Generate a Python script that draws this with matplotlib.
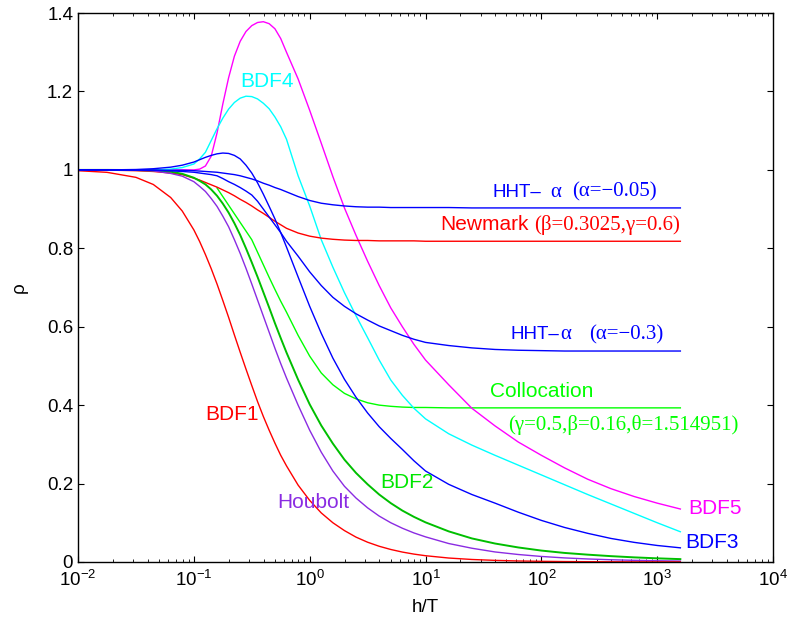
import numpy as np
import matplotlib
matplotlib.use("Agg")
import matplotlib.pyplot as plt

plt.rcParams['font.family'] = ['Liberation Sans', 'DejaVu Sans']
plt.rcParams['mathtext.default'] = 'regular'

nan = np.nan

# log10(h/T) sample positions shared by all curves
log_hT = [-2, -1.75, -1.5, -1.35, -1.2, -1.1,
          -1.0, -0.95, -0.9, -0.85, -0.8, -0.75, -0.7, -0.65, -0.6, -0.55, -0.5,
          -0.45, -0.4, -0.35, -0.3, -0.25, -0.2,
          -0.1, 0, 0.1, 0.2, 0.3, 0.4, 0.5, 0.6, 0.7, 0.8, 0.9, 1.0,
          1.2, 1.4, 1.6, 1.8, 2.0, 2.2, 2.4, 2.6, 2.8, 3.0, 3.2]

bdf1 = [0.998, 0.9938, 0.981, 0.9628, 0.9296, 0.895,
        0.847, 0.8173, 0.784, 0.748, 0.709, 0.667, 0.624, 0.579, 0.535, 0.492, 0.450,
        0.409, 0.371, 0.336, 0.303, 0.272, 0.245,
        0.196, 0.157, 0.125, 0.100, 0.080, 0.0633, 0.0503, 0.040, 0.0318, 0.0252, 0.020, 0.0159,
        0.0100, 0.0063, 0.0040, 0.0025, 0.0016, 0.0010, 0.0006, 0.0004, 0.00025, 0.00016, 0.0001]
houbolt = [1.0, 1.0, 0.9993, 0.9975, 0.991, 0.984,
           0.970, 0.958, 0.945, 0.927, 0.907, 0.882, 0.855, 0.822, 0.787, 0.749, 0.709,
           0.668, 0.627, 0.586, 0.545, 0.506, 0.469,
           0.40, 0.336, 0.28, 0.232, 0.193, 0.163, 0.138, 0.117, 0.100, 0.086, 0.074, 0.064,
           0.047, 0.035, 0.0255, 0.019, 0.014, 0.0103, 0.0076, 0.0056, 0.0041, 0.003, 0.0022]
bdf2 = [1.0, 1.0, 0.9996, 0.9985, 0.9955, 0.990,
        0.980, 0.972, 0.963, 0.950, 0.934, 0.914, 0.891, 0.864, 0.834, 0.800, 0.764,
        0.727, 0.688, 0.649, 0.609, 0.571, 0.534,
        0.465, 0.402, 0.348, 0.302, 0.261, 0.227, 0.198, 0.172, 0.150, 0.131, 0.115, 0.101,
        0.078, 0.060, 0.047, 0.037, 0.029, 0.023, 0.0186, 0.0148, 0.0117, 0.0092, 0.0072]
bdf3 = [1.0, 1.0, 1.001, 1.003, 1.007, 1.012,
        1.020, 1.026, 1.032, 1.037, 1.041, 1.043, 1.042, 1.037, 1.028, 1.012, 0.992,
        0.967, 0.938, 0.907, 0.875, 0.840, 0.803,
        0.727, 0.652, 0.583, 0.520, 0.466, 0.420, 0.380, 0.345, 0.315, 0.287, 0.258, 0.232,
        0.198, 0.172, 0.150, 0.127, 0.106, 0.088, 0.073, 0.060, 0.050, 0.042, 0.036]
bdf4 = [1.0, 1.0, 1.0, 1.0, 1.002, 1.006,
        1.015, 1.028, 1.045, 1.075, 1.105, 1.132, 1.155, 1.172, 1.183, 1.188, 1.187,
        1.181, 1.170, 1.156, 1.135, 1.110, 1.078,
        0.985, 0.908, 0.822, 0.752, 0.687, 0.628, 0.572, 0.515, 0.464, 0.425, 0.392, 0.365,
        0.327, 0.298, 0.272, 0.247, 0.222, 0.197, 0.172, 0.148, 0.124, 0.100, 0.077]
bdf5 = [1.0, 1.0, 1.0, 1.0, 1.0, 1.0,
        1.0, 1.002, 1.01, 1.035, 1.094, 1.168, 1.235, 1.290, 1.328, 1.353, 1.368,
        1.376, 1.378, 1.373, 1.360, 1.335, 1.300,
        1.232, 1.152, 1.068, 0.983, 0.903, 0.833, 0.767, 0.705, 0.648, 0.600, 0.555, 0.515,
        0.452, 0.392, 0.347, 0.306, 0.272, 0.240, 0.211, 0.187, 0.167, 0.150, 0.135]
hht_005 = [1.0, 1.0, 1.0, 0.9995, 0.999, 0.999,
           0.998, 0.997, 0.996, 0.995, 0.994, 0.992, 0.990, 0.988, 0.985, 0.981, 0.977,
           0.972, 0.966, 0.961, 0.955, 0.950, 0.944,
           0.932, 0.922, 0.915, 0.911, 0.908, 0.906, 0.905, 0.905, 0.904, 0.904, 0.904, 0.904,
           0.904, 0.903, 0.903, 0.903, 0.903, 0.903, 0.903, 0.903, 0.903, 0.903, 0.903]
hht_03 = [1.0, 1.0, 0.9995, 0.999, 0.9975, 0.996,
          0.994, 0.992, 0.990, 0.988, 0.985, 0.978, 0.970, 0.963, 0.955, 0.946, 0.936,
          0.920, 0.900, 0.880, 0.860, 0.840, 0.818,
          0.780, 0.740, 0.705, 0.675, 0.652, 0.633, 0.617, 0.602, 0.590, 0.578, 0.568, 0.560,
          0.552, 0.546, 0.542, 0.540, 0.539, 0.538, 0.538, 0.538, 0.538, 0.538, 0.538]
newmark = [1.0, 0.9995, 0.998, 0.996, 0.992, 0.988,
           0.979, 0.974, 0.968, 0.962, 0.956, 0.949, 0.942, 0.934, 0.925, 0.917, 0.908,
           0.898, 0.889, 0.879, 0.869, 0.860, 0.851,
           0.839, 0.831, 0.826, 0.823, 0.821, 0.820, 0.820, 0.819, 0.819, 0.819, 0.819, 0.818,
           0.818, 0.818, 0.818, 0.818, 0.818, 0.818, 0.818, 0.818, 0.818, 0.818, 0.818]
collocation = [nan, nan, nan, nan, nan, nan,
               nan, nan, nan, nan, 0.954, 0.932, 0.910, 0.888, 0.866, 0.844, 0.822,
               0.790, 0.758, 0.726, 0.695, 0.665, 0.637,
               0.578, 0.525, 0.482, 0.452, 0.430, 0.416, 0.406, 0.400, 0.397, 0.395, 0.394, 0.394,
               0.393, 0.393, 0.393, 0.393, 0.393, 0.393, 0.393, 0.393, 0.393, 0.393, 0.393]

h_T = 10.0 ** np.array(log_hT)

fig = plt.figure(figsize=(7.88, 6.23), dpi=100)
ax = fig.add_axes([0.099, 0.098, 0.882, 0.881])

lw = 1.0
ax.plot(h_T, collocation, color=(0, 1, 0), lw=lw)
ax.plot(h_T, bdf5, color=(1, 0, 1), lw=lw)
ax.plot(h_T, bdf4, color=(0, 1, 1), lw=lw)
ax.plot(h_T, newmark, color=(1, 0, 0), lw=lw)
ax.plot(h_T, bdf2, color=(0, 0.75, 0), lw=1.4)
ax.plot(h_T, houbolt, color='#8A2BE2', lw=lw)
ax.plot(h_T, bdf1, color=(1, 0, 0), lw=lw)
ax.plot(h_T, hht_005, color=(0, 0, 1), lw=lw)
ax.plot(h_T, hht_03, color=(0, 0, 1), lw=lw)
ax.plot(h_T, bdf3, color=(0, 0, 1), lw=lw)

ax.set_xscale('log')
ax.set_xlim(1e-2, 1e4)
ax.set_ylim(0, 1.4)
ax.set_yticks([0, 0.2, 0.4, 0.6, 0.8, 1.0, 1.2, 1.4])
ax.set_yticklabels(['0', '0.2', '0.4', '0.6', '0.8', '1', '1.2', '1.4'])
ax.tick_params(which='both', direction='in', top=True, right=True, labelsize=13.5)
ax.tick_params(which='major', length=4)
ax.tick_params(which='minor', length=2.2)
ax.tick_params(axis='x', which='major', pad=6)
for s in ax.spines.values():
    s.set_linewidth(1.0)

ax.set_xlabel('h/T', fontsize=13.5, labelpad=6)
ax.set_ylabel('ρ', fontsize=13.5, labelpad=14)

# curve labels (positions in axes fraction)
fs = 15
serif = ['Liberation Serif', 'DejaVu Serif']
tr = ax.transAxes
ax.text(0.233, 0.875, 'BDF4', color=(0, 1, 1), fontsize=fs, va='center', transform=tr)
ax.text(0.183, 0.268, 'BDF1', color=(1, 0, 0), fontsize=fs, va='center', transform=tr)
ax.text(0.286, 0.108, 'Houbolt', color='#8A2BE2', fontsize=fs, va='center', transform=tr)
ax.text(0.435, 0.144, 'BDF2', color=(0, 0.9, 0), fontsize=fs, va='center', transform=tr)
ax.text(0.878, 0.098, 'BDF5', color=(1, 0, 1), fontsize=fs, va='center', transform=tr)
ax.text(0.873, 0.036, 'BDF3', color=(0, 0, 1), fontsize=fs, va='center', transform=tr)

ax.text(0.597, 0.674, 'HHT\u2013', color=(0, 0, 1), fontsize=13.5, va='center', transform=tr)
ax.text(0.679, 0.674, 'α', color=(0, 0, 1), fontsize=fs, va='center',
        family=serif, transform=tr)
ax.text(0.833, 0.674, '(α=\u22120.05)', color=(0, 0, 1), fontsize=fs, va='center',
        ha='right', family=serif, transform=tr)
ax.text(0.521, 0.614, 'Newmark', color=(1, 0, 0), fontsize=fs, va='center', transform=tr)
ax.text(0.866, 0.614, '(β=0.3025,γ=0.6)', color=(1, 0, 0), fontsize=fs, va='center',
        ha='right', family=serif, transform=tr)
ax.text(0.622, 0.414, 'HHT\u2013', color=(0, 0, 1), fontsize=13.5, va='center', transform=tr)
ax.text(0.694, 0.414, 'α', color=(0, 0, 1), fontsize=fs, va='center',
        family=serif, transform=tr)
ax.text(0.842, 0.414, '(α=\u22120.3)', color=(0, 0, 1), fontsize=fs, va='center',
        ha='right', family=serif, transform=tr)
ax.text(0.593, 0.310, 'Collocation', color=(0, 1, 0), fontsize=fs, va='center', transform=tr)
ax.text(0.619, 0.250, '(γ=0.5,β=0.16,θ=1.514951)', color=(0, 1, 0), fontsize=fs,
        va='center', family=serif, transform=tr)

fig.savefig('out.png', dpi=100)
